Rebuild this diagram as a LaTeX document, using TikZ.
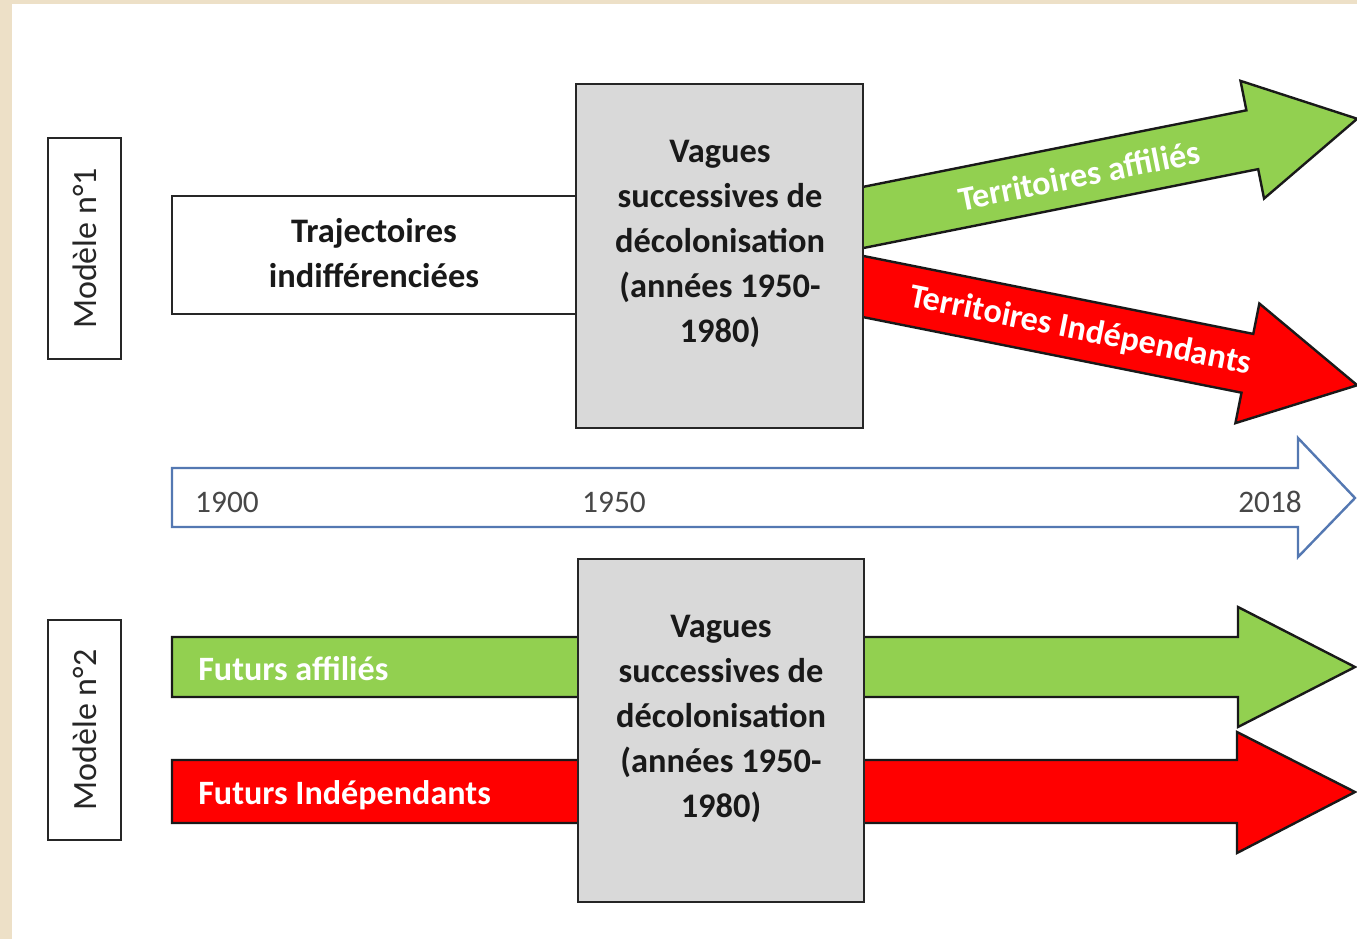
\documentclass[tikz,border=0pt]{standalone}
\usepackage{fontspec}
\setmainfont{Carlito}
\usetikzlibrary{fit}
\definecolor{beige}{RGB}{237,224,199}
\definecolor{boxgray}{RGB}{217,217,217}
\definecolor{agreen}{RGB}{146,208,80}
\definecolor{ared}{RGB}{255,0,0}
\definecolor{tlblue}{RGB}{84,120,178}
\definecolor{edge}{RGB}{38,38,38}
\begin{document}
\begin{tikzpicture}[x=0.75pt,y=-0.75pt,
  bx/.style={draw=edge, line width=2.2pt, inner sep=0pt},
  arr/.style={draw=black!90, line width=1.8pt, line join=miter},
  tl/.style={draw=tlblue, line width=1.8pt, fill=white, line join=miter},
  lbl/.style={font=\fontsize{25.8}{33.75}\selectfont\bfseries, align=center, text=black!90, inner sep=0pt},
  wlbl/.style={font=\fontsize{25.6}{30}\selectfont\bfseries, text=white, inner sep=0pt},
  yr/.style={font=\fontsize{23.5}{26}\selectfont, text=black!72, inner sep=0pt},
  model/.style={font=\fontsize{25.5}{28}\selectfont, text=black!85, rotate=90, inner sep=0pt}]
\fill[beige] (0,0) rectangle (1357,939);
\fill[white] (12,4) rectangle (1357,939);
\useasboundingbox (0,0) rectangle (1357,939);

% Modele boxes
\node[bx, fit={(48,138) (121,359)}] (m1box) {};
\node[model] (m1) at (m1box.center) {Modèle n°1};
\node[bx, fit={(48,620) (121,840)}] (m2box) {};
\node[model] (m2) at (m2box.center) {Modèle n°2};

% Model 1
\node[bx, fill=white, fit={(172,196) (577,314)}] (traj) {};
\node[lbl] (trajt) at (374,253) {Trajectoires\\indifférenciées};

\begin{scope}[shift={(863,217.5)}, rotate=11.3]
  \draw[arr, fill=agreen] (-40,-30) -- (397,-30) -- (397,-60) -- (504,0) -- (397,60) -- (397,30) -- (-40,30) -- cycle;
  \node[wlbl, transform shape] (ta) at (220,1) {Territoires affiliés};
\end{scope}
\begin{scope}[shift={(863,286.5)}, rotate=-11.3]
  \draw[arr, fill=ared] (-40,-30) -- (392,-30) -- (392,-61) -- (504,0) -- (392,61) -- (392,30) -- (-40,30) -- cycle;
  \node[wlbl, transform shape] (ti) at (222,1) {Territoires Indépendants};
\end{scope}

\node[bx, fill=boxgray, fit={(576,84) (863,428)}] (g1) {};
\node[lbl] (g1t) at (720,244) {Vagues\\successives de\\décolonisation\\(années 1950-\\1980)};

% Timeline
\draw[tl] (172,468) -- (1298,468) -- (1298,438) -- (1355,498) -- (1298,557) -- (1298,527) -- (172,527) -- cycle;
\node[yr] (y1900) at (227,502) {1900};
\node[yr] (y1950) at (614,502) {1950};
\node[yr] (y2018) at (1270,502) {2018};

% Model 2
\draw[arr, fill=agreen] (172,637) -- (1238,637) -- (1238,607) -- (1355,667) -- (1238,727) -- (1238,697) -- (172,697) -- cycle;
\draw[arr, fill=ared] (172,760) -- (1237,760) -- (1237,732) -- (1355,792) -- (1237,853) -- (1237,823) -- (172,823) -- cycle;
\node[wlbl, anchor=west] (fa) at (198,669) {Futurs affiliés};
\node[wlbl, anchor=west] (fi) at (198,795) {Futurs Indépendants};

\node[bx, fill=boxgray, fit={(578,559) (864,902)}] (g2) {};
\node[lbl] (g2t) at (721,719) {Vagues\\successives de\\décolonisation\\(années 1950-\\1980)};
\end{tikzpicture}
\end{document}
